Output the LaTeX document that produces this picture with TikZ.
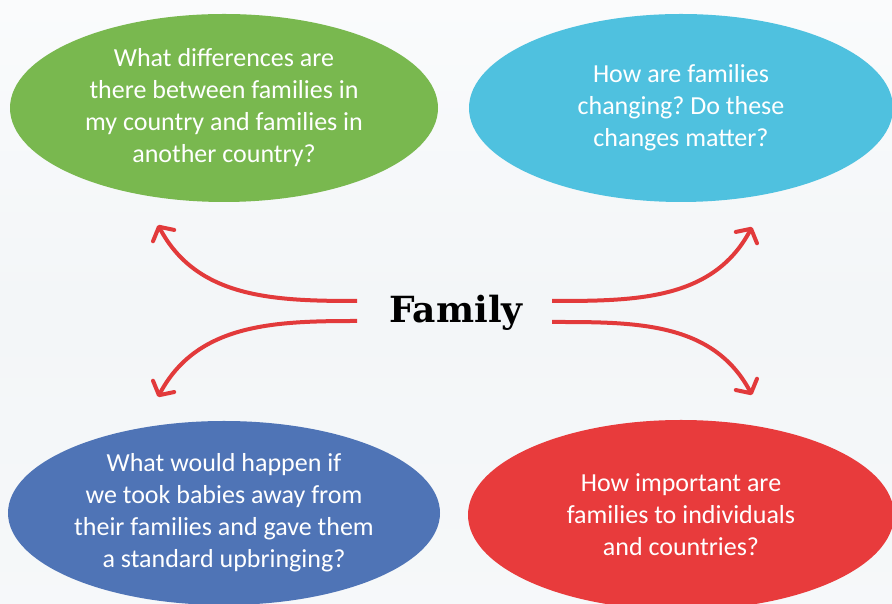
\documentclass[tikz,border=0pt]{standalone}
\usepackage{fontspec}
\setmainfont{Carlito}
\newfontfamily\famfont{DejaVu Serif}
\usetikzlibrary{shapes.geometric,arrows.meta}
\definecolor{qgreen}{HTML}{79B84F}
\definecolor{qcyan}{HTML}{4FC1DF}
\definecolor{qblue}{HTML}{4F74B6}
\definecolor{qred}{HTML}{E83B3C}
\definecolor{arrred}{HTML}{E23A3B}
\definecolor{bgtop}{HTML}{FAFBFC}
\definecolor{bgmid}{HTML}{F3F6F8}
\frenchspacing
\begin{document}
\begin{tikzpicture}[x=1pt,y=1pt,
		bubble/.style={ellipse, inner sep=0pt, text=white, align=center, font=\fontsize{26}{32}\selectfont},
		arr/.style={draw=arrred, line width=4pt, -{Straight Barb[length=10pt,width=24pt,round]}}]
			\useasboundingbox (0,0) rectangle (892,604);
			\clip (0,0) rectangle (892,604);
			\shade[top color=bgtop, bottom color=bgmid!60!bgtop, middle color=bgmid] (0,0) rectangle (892,604);

			% questions
			\node[bubble, fill=qgreen, minimum width=428, minimum height=188] (diff) at(224, 496){What differences are\\there between families in\\my country and families in\\another country?};
			\node[bubble, fill=qcyan, minimum width=424, minimum height=188] (change) at(681, 496){How are families\\changing? Do these\\changes matter?};
			\node[bubble, fill=qblue, minimum width=432, minimum height=184] (babies) at(224, 91){What would happen if\\we took babies away from\\their families and gave them\\a standard upbringing?};
			\node[bubble, fill=qred, minimum width=426, minimum height=190] (import) at(681, 89){How important are\\families to individuals\\and countries?};

			\node[anchor=base, font=\famfont\bfseries\fontsize{36}{40}\selectfont] (fam) at(456, 281){Family};

			\coordinate (ulS) at(357, 303);
			\coordinate (llS) at(357, 283);
			\coordinate (urS) at(552, 303);
			\coordinate (lrS) at(552, 282);
			\coordinate (ulT) at(158, 379);
			\coordinate (llT) at(158, 207);
			\coordinate (urT) at(752, 377);
			\coordinate (lrT) at(752, 209);

			\draw[arr] (ulS) to[out=180, in=-62] (ulT);
			\draw[arr] (llS) to[out=180, in=62] (llT);
			\draw[arr] (urS) to[out=0, in=-118] (urT);
			\draw[arr] (lrS) to[out=0, in=118] (lrT);
		\end{tikzpicture}
\end{document}
